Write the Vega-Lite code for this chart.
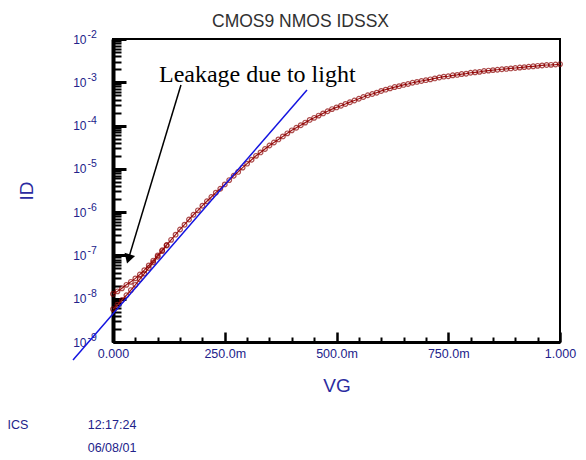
{
  "$schema": "https://vega.github.io/schema/vega-lite/v6.json",
  "width": 447,
  "height": 303,
  "autosize": {"type": "none"},
  "padding": {"left": 113, "top": 39, "right": 26, "bottom": 118},
  "background": "white",
  "title": {
    "text": "CMOS9 NMOS IDSSX",
    "anchor": "middle",
    "frame": "group",
    "dx": -36,
    "dy": 19,
    "offset": 4,
    "baseline": "alphabetic",
    "font": "Liberation Sans",
    "fontSize": 17.5,
    "fontWeight": "normal",
    "color": "#303030"
  },
  "config": {
    "view": {"stroke": "#000000", "strokeWidth": 2},
    "axis": {"grid": false, "labelFont": "Liberation Sans", "titleFont": "Liberation Sans"}
  },
  "datasets": {
    "curve": [
      {"VG": 0.00, "ID": 1.29e-8, "sweep": "a"},
      {"VG": 0.01, "ID": 1.48e-8, "sweep": "a"},
      {"VG": 0.02, "ID": 1.74e-8, "sweep": "a"},
      {"VG": 0.03, "ID": 2.09e-8, "sweep": "a"},
      {"VG": 0.04, "ID": 2.45e-8, "sweep": "a"},
      {"VG": 0.05, "ID": 2.95e-8, "sweep": "a"},
      {"VG": 0.06, "ID": 3.63e-8, "sweep": "a"},
      {"VG": 0.07, "ID": 4.57e-8, "sweep": "a"},
      {"VG": 0.08, "ID": 5.89e-8, "sweep": "a"},
      {"VG": 0.09, "ID": 7.59e-8, "sweep": "a"},
      {"VG": 0.10, "ID": 1.00e-7, "sweep": "a"},
      {"VG": 0.11, "ID": 1.32e-7, "sweep": "a"},
      {"VG": 0.12, "ID": 1.74e-7, "sweep": "a"},
      {"VG": 0.13, "ID": 2.29e-7, "sweep": "a"},
      {"VG": 0.14, "ID": 3.02e-7, "sweep": "a"},
      {"VG": 0.15, "ID": 3.98e-7, "sweep": "a"},
      {"VG": 0.16, "ID": 5.13e-7, "sweep": "a"},
      {"VG": 0.17, "ID": 6.76e-7, "sweep": "a"},
      {"VG": 0.18, "ID": 8.71e-7, "sweep": "a"},
      {"VG": 0.19, "ID": 1.10e-6, "sweep": "a"},
      {"VG": 0.20, "ID": 1.41e-6, "sweep": "a"},
      {"VG": 0.21, "ID": 1.78e-6, "sweep": "a"},
      {"VG": 0.22, "ID": 2.24e-6, "sweep": "a"},
      {"VG": 0.23, "ID": 2.82e-6, "sweep": "a"},
      {"VG": 0.24, "ID": 3.47e-6, "sweep": "a"},
      {"VG": 0.25, "ID": 4.37e-6, "sweep": "a"},
      {"VG": 0.26, "ID": 5.50e-6, "sweep": "a"},
      {"VG": 0.27, "ID": 6.92e-6, "sweep": "a"},
      {"VG": 0.28, "ID": 8.51e-6, "sweep": "a"},
      {"VG": 0.29, "ID": 1.07e-5, "sweep": "a"},
      {"VG": 0.30, "ID": 1.32e-5, "sweep": "a"},
      {"VG": 0.31, "ID": 1.62e-5, "sweep": "a"},
      {"VG": 0.32, "ID": 2.00e-5, "sweep": "a"},
      {"VG": 0.33, "ID": 2.40e-5, "sweep": "a"},
      {"VG": 0.34, "ID": 2.88e-5, "sweep": "a"},
      {"VG": 0.35, "ID": 3.47e-5, "sweep": "a"},
      {"VG": 0.36, "ID": 4.07e-5, "sweep": "a"},
      {"VG": 0.37, "ID": 4.79e-5, "sweep": "a"},
      {"VG": 0.38, "ID": 5.62e-5, "sweep": "a"},
      {"VG": 0.39, "ID": 6.61e-5, "sweep": "a"},
      {"VG": 0.40, "ID": 7.76e-5, "sweep": "a"},
      {"VG": 0.41, "ID": 8.91e-5, "sweep": "a"},
      {"VG": 0.42, "ID": 1.02e-4, "sweep": "a"},
      {"VG": 0.43, "ID": 1.17e-4, "sweep": "a"},
      {"VG": 0.44, "ID": 1.35e-4, "sweep": "a"},
      {"VG": 0.45, "ID": 1.51e-4, "sweep": "a"},
      {"VG": 0.46, "ID": 1.70e-4, "sweep": "a"},
      {"VG": 0.47, "ID": 1.91e-4, "sweep": "a"},
      {"VG": 0.48, "ID": 2.14e-4, "sweep": "a"},
      {"VG": 0.49, "ID": 2.40e-4, "sweep": "a"},
      {"VG": 0.50, "ID": 2.63e-4, "sweep": "a"},
      {"VG": 0.51, "ID": 2.88e-4, "sweep": "a"},
      {"VG": 0.52, "ID": 3.16e-4, "sweep": "a"},
      {"VG": 0.53, "ID": 3.47e-4, "sweep": "a"},
      {"VG": 0.54, "ID": 3.80e-4, "sweep": "a"},
      {"VG": 0.55, "ID": 4.17e-4, "sweep": "a"},
      {"VG": 0.56, "ID": 4.57e-4, "sweep": "a"},
      {"VG": 0.57, "ID": 5.01e-4, "sweep": "a"},
      {"VG": 0.58, "ID": 5.37e-4, "sweep": "a"},
      {"VG": 0.59, "ID": 5.75e-4, "sweep": "a"},
      {"VG": 0.60, "ID": 6.31e-4, "sweep": "a"},
      {"VG": 0.61, "ID": 6.76e-4, "sweep": "a"},
      {"VG": 0.62, "ID": 7.24e-4, "sweep": "a"},
      {"VG": 0.63, "ID": 7.76e-4, "sweep": "a"},
      {"VG": 0.64, "ID": 8.13e-4, "sweep": "a"},
      {"VG": 0.65, "ID": 8.71e-4, "sweep": "a"},
      {"VG": 0.66, "ID": 9.12e-4, "sweep": "a"},
      {"VG": 0.67, "ID": 9.77e-4, "sweep": "a"},
      {"VG": 0.68, "ID": 1.02e-3, "sweep": "a"},
      {"VG": 0.69, "ID": 1.07e-3, "sweep": "a"},
      {"VG": 0.70, "ID": 1.12e-3, "sweep": "a"},
      {"VG": 0.71, "ID": 1.17e-3, "sweep": "a"},
      {"VG": 0.72, "ID": 1.23e-3, "sweep": "a"},
      {"VG": 0.73, "ID": 1.29e-3, "sweep": "a"},
      {"VG": 0.74, "ID": 1.35e-3, "sweep": "a"},
      {"VG": 0.75, "ID": 1.38e-3, "sweep": "a"},
      {"VG": 0.76, "ID": 1.45e-3, "sweep": "a"},
      {"VG": 0.77, "ID": 1.48e-3, "sweep": "a"},
      {"VG": 0.78, "ID": 1.55e-3, "sweep": "a"},
      {"VG": 0.79, "ID": 1.58e-3, "sweep": "a"},
      {"VG": 0.80, "ID": 1.66e-3, "sweep": "a"},
      {"VG": 0.81, "ID": 1.70e-3, "sweep": "a"},
      {"VG": 0.82, "ID": 1.74e-3, "sweep": "a"},
      {"VG": 0.83, "ID": 1.82e-3, "sweep": "a"},
      {"VG": 0.84, "ID": 1.86e-3, "sweep": "a"},
      {"VG": 0.85, "ID": 1.91e-3, "sweep": "a"},
      {"VG": 0.86, "ID": 1.95e-3, "sweep": "a"},
      {"VG": 0.87, "ID": 2.00e-3, "sweep": "a"},
      {"VG": 0.88, "ID": 2.04e-3, "sweep": "a"},
      {"VG": 0.89, "ID": 2.09e-3, "sweep": "a"},
      {"VG": 0.90, "ID": 2.14e-3, "sweep": "a"},
      {"VG": 0.91, "ID": 2.19e-3, "sweep": "a"},
      {"VG": 0.92, "ID": 2.24e-3, "sweep": "a"},
      {"VG": 0.93, "ID": 2.29e-3, "sweep": "a"},
      {"VG": 0.94, "ID": 2.34e-3, "sweep": "a"},
      {"VG": 0.95, "ID": 2.40e-3, "sweep": "a"},
      {"VG": 0.96, "ID": 2.45e-3, "sweep": "a"},
      {"VG": 0.97, "ID": 2.51e-3, "sweep": "a"},
      {"VG": 0.98, "ID": 2.53e-3, "sweep": "a"},
      {"VG": 0.99, "ID": 2.57e-3, "sweep": "a"},
      {"VG": 1.00, "ID": 2.63e-3, "sweep": "a"},
      {"VG": 0.00, "ID": 5.75e-9, "sweep": "b"},
      {"VG": 0.01, "ID": 7.24e-9, "sweep": "b"},
      {"VG": 0.02, "ID": 9.33e-9, "sweep": "b"},
      {"VG": 0.03, "ID": 1.20e-8, "sweep": "b"},
      {"VG": 0.04, "ID": 1.58e-8, "sweep": "b"},
      {"VG": 0.05, "ID": 2.09e-8, "sweep": "b"},
      {"VG": 0.06, "ID": 2.82e-8, "sweep": "b"},
      {"VG": 0.07, "ID": 3.80e-8, "sweep": "b"},
      {"VG": 0.08, "ID": 5.13e-8, "sweep": "b"},
      {"VG": 0.09, "ID": 6.92e-8, "sweep": "b"},
      {"VG": 0.10, "ID": 9.33e-8, "sweep": "b"},
      {"VG": 0.11, "ID": 1.26e-7, "sweep": "b"},
      {"VG": 0.12, "ID": 1.70e-7, "sweep": "b"}
    ],
    "fit": [
      {"VG": -0.0895, "ID": 3.85e-10},
      {"VG": 0.434, "ID": 6.64e-4}
    ],
    "arrow": [
      {"VG": 0.152, "ID": 8.65e-4, "VG2": 0.0345, "ID2": 8.3e-8}
    ],
    "note": [
      {"VG": 0.1029, "ID": 1.016e-3, "label": "Leakage due to light"}
    ],
    "footer": [
      {"VG": -0.2125, "ID": 1.21e-11, "label": "ICS"},
      {"VG": -0.0022, "ID": 1.21e-11, "label": "12:17:24"},
      {"VG": -0.0022, "ID": 3.56e-12, "label": "06/08/01"}
    ]
  },
  "resolve": {"axis": {"x": "independent", "y": "independent"}},
  "layer": [
    {
      "data": {"name": "curve"},
      "mark": {"type": "line", "color": "#a01818", "strokeWidth": 1.2, "clip": false},
      "encoding": {
        "x": {
          "field": "VG", "type": "quantitative",
          "scale": {"domain": [0, 1], "nice": false, "zero": false},
          "axis": {
            "orient": "bottom",
            "values": [0, 0.25, 0.5, 0.75, 1],
            "labelExpr": "datum.value == 0 ? '0.000' : datum.value == 1 ? '1.000' : format(datum.value * 1000, '.1f') + 'm'",
            "labelFlush": false,
            "labelOverlap": false,
            "tickSize": -10,
            "tickWidth": 2.5,
            "tickColor": "#000000",
            "domainColor": "#000000",
            "domainWidth": 3,
            "labelColor": "#22228a",
            "labelFontSize": 12.5,
            "labelPadding": 15,
            "title": "VG",
            "titleColor": "#2b2ba0",
            "titleFontSize": 19,
            "titleFontWeight": "normal",
            "titlePadding": 17
          }
        },
        "y": {
          "field": "ID", "type": "quantitative",
          "scale": {"type": "log", "domain": [1e-9, 1e-2], "nice": false},
          "axis": {
            "orient": "left",
            "values": [1e-9, 1e-8, 1e-7, 1e-6, 1e-5, 1e-4, 1e-3, 1e-2],
            "labelExpr": "'10'",
            "labelOverlap": false,
            "labelFlush": false,
            "tickSize": -13,
            "tickWidth": 3,
            "tickColor": "#000000",
            "domainColor": "#000000",
            "domainWidth": 4,
            "labelColor": "#22228a",
            "labelFontSize": 12,
            "labelAlign": "right",
            "labelPadding": 40,
            "title": "ID",
            "titleColor": "#2b2ba0",
            "titleFontSize": 19,
            "titleFontWeight": "normal",
            "titlePadding": 36
          }
        },
        "detail": {"field": "sweep"}
      }
    },
    {
      "data": {"name": "curve"},
      "mark": {"type": "point", "shape": "circle", "filled": false, "color": "#8b0000", "size": 22, "strokeWidth": 1.2, "clip": false},
      "encoding": {
        "x": {
          "field": "VG", "type": "quantitative",
          "axis": {
            "orient": "bottom",
            "values": [0.05, 0.1, 0.15, 0.2, 0.3, 0.35, 0.4, 0.45, 0.55, 0.6, 0.65, 0.7, 0.8, 0.85, 0.9, 0.95],
            "labels": false,
            "domain": false,
            "tickSize": -5,
            "tickWidth": 2,
            "tickColor": "#000000",
            "title": null
          }
        },
        "y": {
          "field": "ID", "type": "quantitative",
          "axis": {
            "orient": "left",
            "values": [2e-9, 3e-9, 4e-9, 5e-9, 6e-9, 7e-9, 8e-9, 9e-9,
                       2e-8, 3e-8, 4e-8, 5e-8, 6e-8, 7e-8, 8e-8, 9e-8,
                       2e-7, 3e-7, 4e-7, 5e-7, 6e-7, 7e-7, 8e-7, 9e-7,
                       2e-6, 3e-6, 4e-6, 5e-6, 6e-6, 7e-6, 8e-6, 9e-6,
                       2e-5, 3e-5, 4e-5, 5e-5, 6e-5, 7e-5, 8e-5, 9e-5,
                       2e-4, 3e-4, 4e-4, 5e-4, 6e-4, 7e-4, 8e-4, 9e-4,
                       2e-3, 3e-3, 4e-3, 5e-3, 6e-3, 7e-3, 8e-3, 9e-3],
            "labels": false,
            "domain": false,
            "tickSize": -8,
            "tickWidth": 2,
            "tickColor": "#000000",
            "title": null
          }
        }
      }
    },
    {
      "data": {"name": "fit"},
      "mark": {"type": "line", "color": "#1414e0", "strokeWidth": 1.5, "clip": false},
      "encoding": {
        "x": {"field": "VG", "type": "quantitative", "axis": null},
        "y": {
          "field": "ID", "type": "quantitative",
          "axis": {
            "orient": "left",
            "values": [1e-9, 1e-8, 1e-7, 1e-6, 1e-5, 1e-4, 1e-3, 1e-2],
            "labelExpr": "'-' + round(-log(datum.value) / LN10)",
            "labelOverlap": false,
            "labelFlush": false,
            "ticks": false,
            "domain": false,
            "labelColor": "#22228a",
            "labelFontSize": 10.5,
            "labelAlign": "left",
            "labelPadding": 26,
            "labelOffset": -5,
            "title": null
          }
        }
      }
    },
    {
      "data": {"name": "arrow"},
      "mark": {"type": "rule", "color": "#000000", "strokeWidth": 1.5, "clip": false},
      "encoding": {
        "x": {"field": "VG", "type": "quantitative", "axis": null},
        "y": {"field": "ID", "type": "quantitative", "axis": null},
        "x2": {"field": "VG2"},
        "y2": {"field": "ID2"}
      }
    },
    {
      "data": {"name": "arrow"},
      "mark": {"type": "point", "shape": "triangle-down", "filled": true, "color": "#000000", "size": 120, "angle": 17, "opacity": 1, "clip": false},
      "encoding": {
        "x": {"field": "VG2", "type": "quantitative", "axis": null},
        "y": {"field": "ID2", "type": "quantitative", "axis": null}
      }
    },
    {
      "data": {"name": "note"},
      "mark": {"type": "text", "font": "Liberation Serif", "fontSize": 24, "color": "#000000", "align": "left", "baseline": "alphabetic", "clip": false},
      "encoding": {
        "x": {"field": "VG", "type": "quantitative", "axis": null},
        "y": {"field": "ID", "type": "quantitative", "axis": null},
        "text": {"field": "label"}
      }
    },
    {
      "data": {"name": "footer"},
      "mark": {"type": "text", "font": "Liberation Sans", "fontSize": 12.5, "color": "#22228a", "align": "center", "baseline": "middle", "clip": false},
      "encoding": {
        "x": {"field": "VG", "type": "quantitative", "axis": null},
        "y": {"field": "ID", "type": "quantitative", "axis": null},
        "text": {"field": "label"}
      }
    }
  ]
}
